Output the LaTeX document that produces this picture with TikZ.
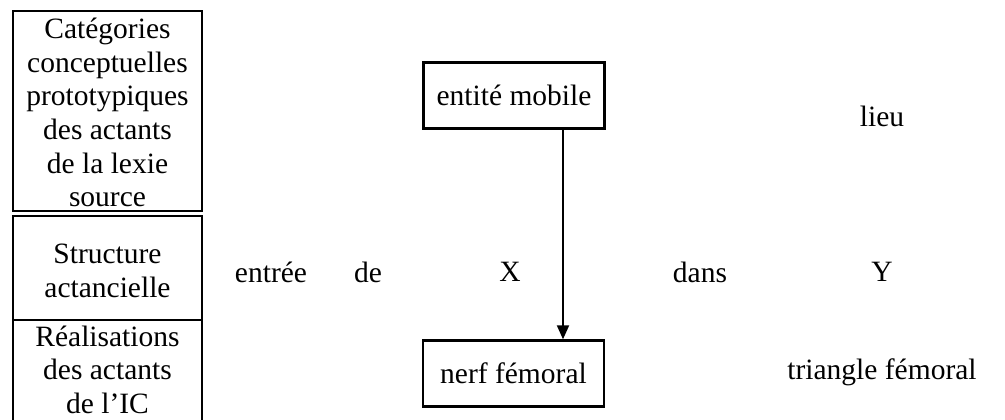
\documentclass[tikz,border=0pt]{standalone}
\usepackage{fontspec}
\setmainfont{Liberation Serif}
\usetikzlibrary{arrows.meta}
\begin{document}
\begin{tikzpicture}[x=1pt,y=-1pt,
  txt/.style={inner sep=0pt,font=\fontsize{29.5}{33.6}\selectfont,align=center},
  itembox/.style={draw,line width=2.4pt,inner sep=0pt,minimum width=181pt,minimum height=66pt,
    font=\fontsize{29.5}{33.6}\selectfont},
  rule/.style={line width=1.6pt},
  link/.style={line width=2pt,-{Triangle[width=12pt,length=14pt]}}]
\useasboundingbox (0,0) rectangle (1005,420);

% left-hand column of the table
\draw[rule] (13,11) rectangle (202,211);
\draw[rule] (13,216) rectangle (202,320);
\draw[rule] (13,420) -- (13,320) -- (202,320) -- (202,420);

\node[txt] (rowcat) at (107.5,112.5) {Catégories\\conceptuelles\\prototypiques\\des actants\\de la lexie\\source};
\node[txt] (rowstr) at (107.5,271) {Structure\\actancielle};
\node[txt] (rowreal) at (107.5,369.5) {Réalisations\\des actants\\de l’IC};

% conceptual categories
\node[itembox] (ent) at (514,95.5) {entité mobile};
\node[txt] (lieu) at (882,116) {lieu};

% actantial structure
\node[txt] (entree) at (271,272) {entrée};
\node[txt] (de) at (368,272) {de};
\node[txt] (X) at (510,272) {X};
\node[txt] (dans) at (700,272) {dans};
\node[txt] (Y) at (882,272) {Y};

% realisations
\node[itembox] (nerf) at (513.5,373.5) {nerf fémoral};
\node[txt] (tri) at (882,372) {triangle fémoral};

\coordinate (axis) at (563,0);
\draw[link] (ent.south -| axis) -- (nerf.north -| axis);
\end{tikzpicture}
\end{document}
